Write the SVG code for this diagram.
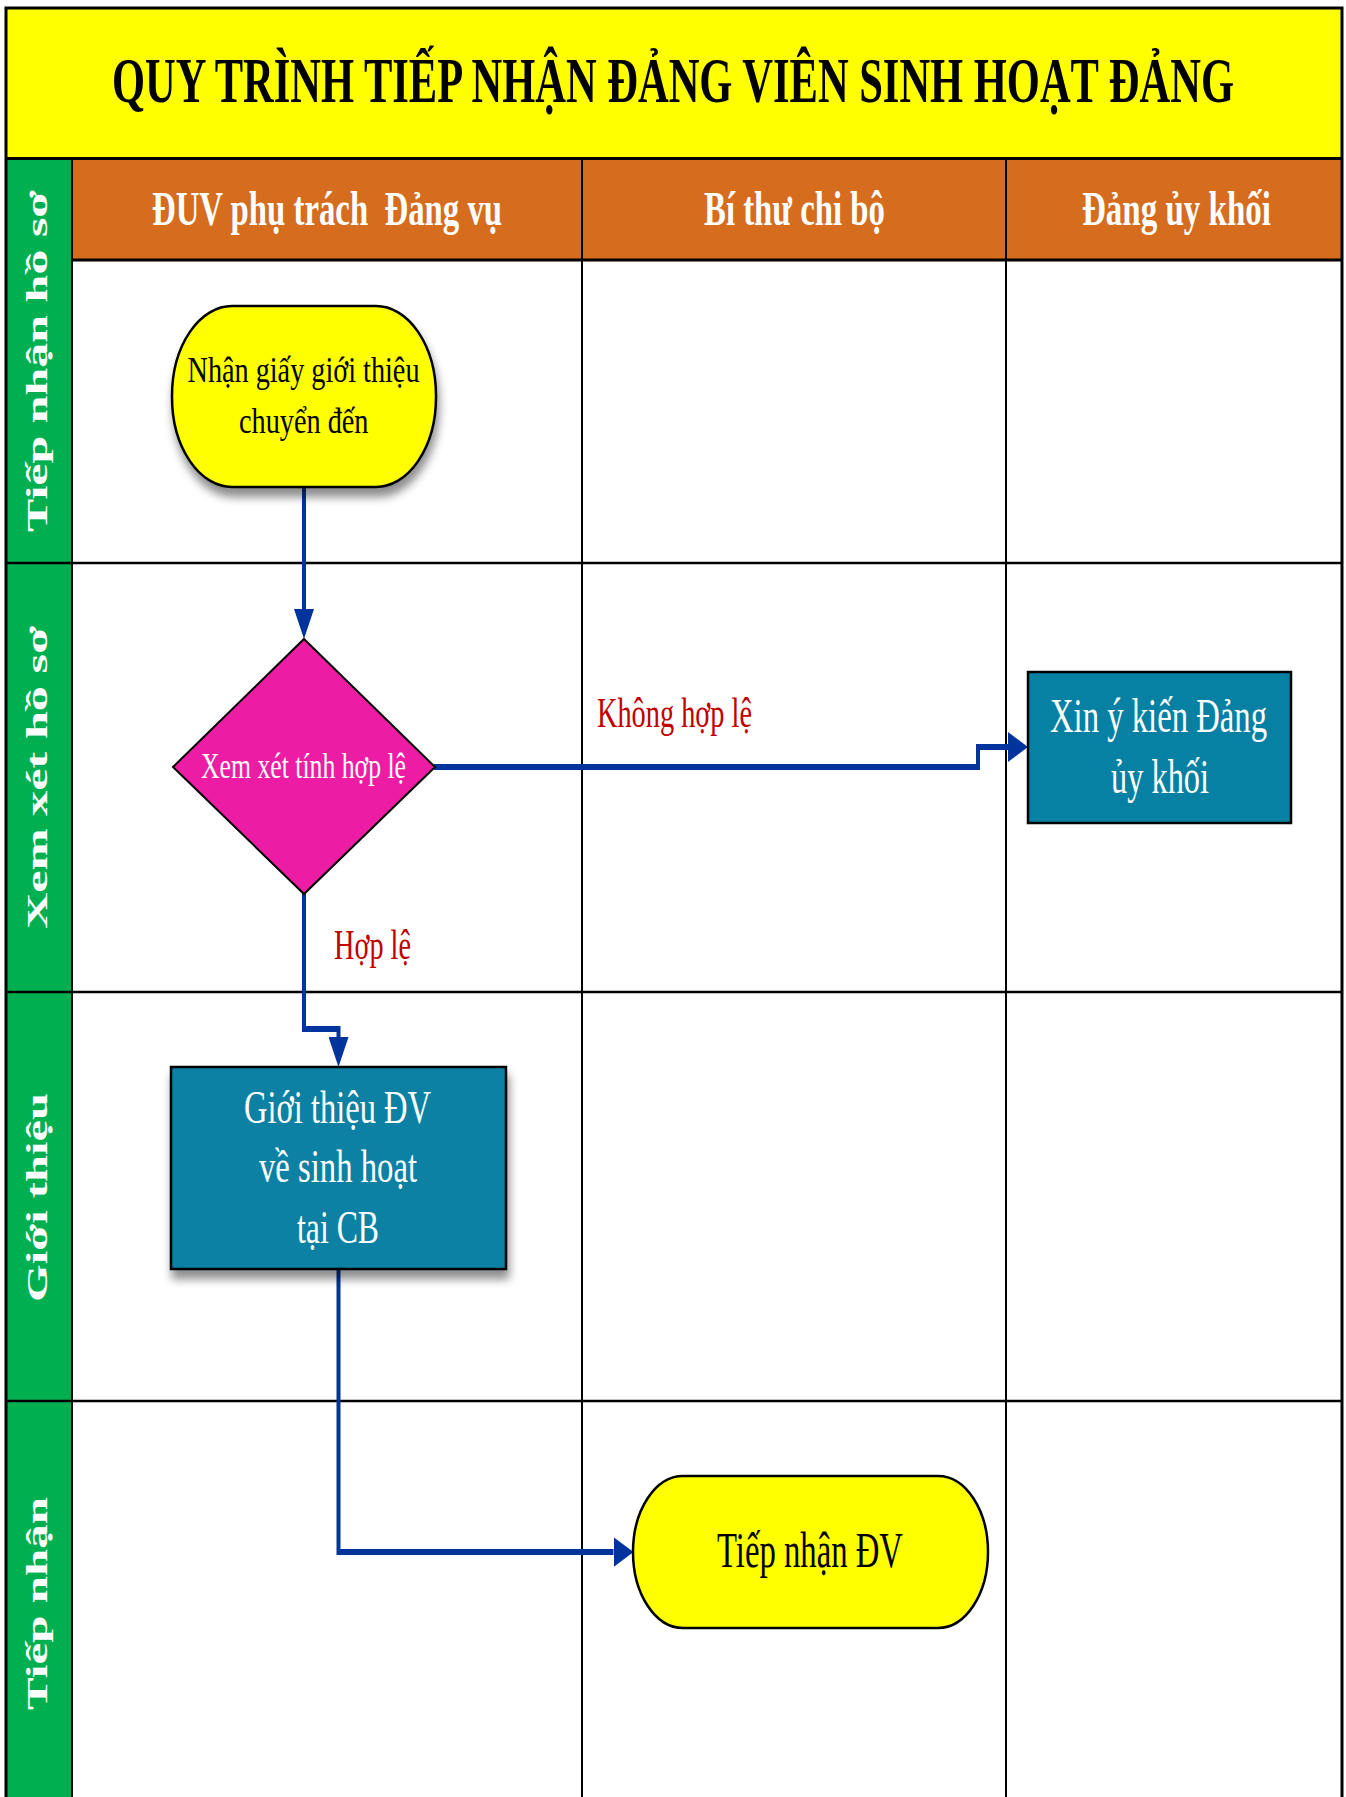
<svg xmlns="http://www.w3.org/2000/svg" width="1346" height="1797" viewBox="0 0 1346 1797">
<style>
.serif{font-family:"Liberation Serif","Times New Roman",serif}
.title{font-size:63px;font-weight:bold;fill:#000}
.head{font-size:49px;font-weight:bold;fill:#fff;white-space:pre}
.lane{font-size:30px;font-weight:bold;fill:#fff}
.black{fill:#000}
.white{fill:#fff}
.red{fill:#C00000}
.grid{stroke:#000;fill:none}
.conn{fill:none;stroke:#00349C;stroke-width:4}
.yellow{fill:#FFFF00;stroke:#000;stroke-width:2.5}
.teal{fill:#0781A3;stroke:#000;stroke-width:2.5}
.magenta{fill:#EC1CA4;stroke:#000;stroke-width:2}
</style>
<defs>
<marker id="arrow" markerUnits="userSpaceOnUse" markerWidth="20" markerHeight="20" viewBox="0 0 20 20" refX="0" refY="10" orient="auto">
<path d="M0,0 L20,10 L0,20 Z" fill="#00349C"/>
</marker>
<filter id="shadow" x="-20%" y="-20%" width="140%" height="150%">
<feGaussianBlur in="SourceAlpha" stdDeviation="5"/>
<feOffset dx="2" dy="9" result="b"/>
<feComponentTransfer><feFuncA type="linear" slope="0.45"/></feComponentTransfer>
<feMerge><feMergeNode/><feMergeNode in="SourceGraphic"/></feMerge>
</filter>
</defs>
<rect x="0" y="0" width="1346" height="1797" fill="#fff"/>
<g id="frame">
<rect x="6" y="8" width="1336" height="150" fill="#FFFF00"/>
<rect x="72" y="158" width="1270" height="102" fill="#D56C1E"/>
<rect x="6" y="158" width="66" height="1645" fill="#00B050"/>
<line class="grid" x1="6" y1="158.5" x2="1342" y2="158.5" stroke-width="3"/>
<line class="grid" x1="72" y1="260" x2="1342" y2="260" stroke-width="3"/>
<line class="grid" x1="6" y1="563" x2="1342" y2="563" stroke-width="2.5"/>
<line class="grid" x1="6" y1="992" x2="1342" y2="992" stroke-width="2.5"/>
<line class="grid" x1="6" y1="1401" x2="1342" y2="1401" stroke-width="2.5"/>
<line class="grid" x1="72" y1="158" x2="72" y2="1800" stroke-width="2"/>
<line class="grid" x1="582" y1="158" x2="582" y2="1800" stroke-width="2"/>
<line class="grid" x1="1006" y1="158" x2="1006" y2="1800" stroke-width="2"/>
<path class="grid" d="M6,1800 V8 H1342 V1800" stroke-width="3"/>
</g>
<g id="title">
<text class="serif title" x="112" y="102" textLength="1122" lengthAdjust="spacingAndGlyphs">QUY TRÌNH TIẾP NHẬN ĐẢNG VIÊN SINH HOẠT ĐẢNG</text>
</g>
<g id="headers">
<text class="serif head" x="152" y="225" textLength="350" lengthAdjust="spacingAndGlyphs" xml:space="preserve">ĐUV phụ trách  Đảng vụ</text>
<text class="serif head" x="704" y="225" textLength="181" lengthAdjust="spacingAndGlyphs">Bí thư chi bộ</text>
<text class="serif head" x="1082" y="225" textLength="189" lengthAdjust="spacingAndGlyphs">Đảng ủy khối</text>
</g>
<g id="lanes">
<text class="serif lane" transform="translate(47,532) rotate(-90)" x="0" y="0" textLength="342" lengthAdjust="spacingAndGlyphs">Tiếp nhận hồ sơ</text>
<text class="serif lane" transform="translate(47,929) rotate(-90)" x="0" y="0" textLength="303" lengthAdjust="spacingAndGlyphs">Xem xét hồ sơ</text>
<text class="serif lane" transform="translate(47,1302) rotate(-90)" x="0" y="0" textLength="209" lengthAdjust="spacingAndGlyphs">Giới thiệu</text>
<text class="serif lane" transform="translate(47,1710) rotate(-90)" x="0" y="0" textLength="213" lengthAdjust="spacingAndGlyphs">Tiếp nhận</text>
</g>
<g id="connectors">
<g transform="scale(1,1.5)">
<path class="conn" d="M304,324.67 V406" marker-end="url(#arrow)"/>
<path class="conn" d="M434,511.33 H978 V498 H1008" marker-end="url(#arrow)"/>
<path class="conn" d="M304,596 V686 H338.5 V691.33" marker-end="url(#arrow)"/>
<path class="conn" d="M338.5,846 V1034.67 H613.5" marker-end="url(#arrow)"/>
</g>
<text class="serif red" x="597" y="727" font-size="42" textLength="155" lengthAdjust="spacingAndGlyphs">Không hợp lệ</text>
<text class="serif red" x="334" y="959" font-size="42" textLength="77" lengthAdjust="spacingAndGlyphs">Hợp lệ</text>
</g>
<g id="node-nhan-giay">
<rect class="yellow" x="172" y="306" width="264" height="181" rx="60" ry="90" filter="url(#shadow)"/>
<text class="serif black" x="187.5" y="382" font-size="36" textLength="232" lengthAdjust="spacingAndGlyphs">Nhận giấy giới thiệu</text>
<text class="serif black" x="239" y="433" font-size="36" textLength="129.5" lengthAdjust="spacingAndGlyphs">chuyển đến</text>
</g>
<g id="node-xem-xet">
<polygon class="magenta" points="304,639 435,767 304,894 173,767"/>
<text class="serif white" x="201" y="777.5" font-size="36" textLength="205" lengthAdjust="spacingAndGlyphs">Xem xét tính hợp lệ</text>
</g>
<g id="node-xin-y-kien">
<rect class="teal" x="1028" y="672" width="263" height="151"/>
<text class="serif white" x="1050" y="732" font-size="48" textLength="217" lengthAdjust="spacingAndGlyphs">Xin ý kiến Đảng</text>
<text class="serif white" x="1111" y="793" font-size="48" textLength="98" lengthAdjust="spacingAndGlyphs">ủy khối</text>
</g>
<g id="node-gioi-thieu">
<rect class="teal" x="171" y="1067" width="335" height="202" filter="url(#shadow)"/>
<text class="serif white" x="244" y="1123" font-size="47" textLength="187" lengthAdjust="spacingAndGlyphs">Giới thiệu ĐV</text>
<text class="serif white" x="259" y="1182" font-size="47" textLength="158" lengthAdjust="spacingAndGlyphs">về sinh hoạt</text>
<text class="serif white" x="297" y="1243" font-size="47" textLength="82" lengthAdjust="spacingAndGlyphs">tại CB</text>
</g>
<g id="node-tiep-nhan">
<rect class="yellow" x="633" y="1476" width="355" height="152" rx="50" ry="76"/>
<text class="serif black" x="717" y="1567" font-size="50" textLength="186" lengthAdjust="spacingAndGlyphs">Tiếp nhận ĐV</text>
</g>
</svg>
